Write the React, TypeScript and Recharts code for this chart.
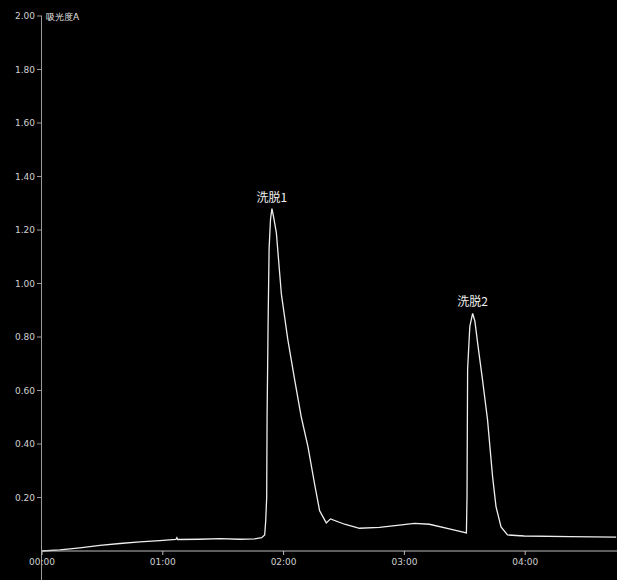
import React from 'react';
import { LineChart, Line, XAxis, YAxis, ReferenceDot } from 'recharts';

// time in seconds
const times = [
  0, 8.9, 18.8, 28.8, 38.7, 48.6, 58.5, 66.5, 67.0, 67.4, 78.3, 88.3, 98.2, 105.6, 109.1,
  110.6, 111.1, 111.6, 111.8, 112.3, 112.8, 113.5, 114.2, 115.0, 116.4, 118.9, 122.1, 125.5,
  128.8, 132.1, 135.4, 137.9, 141.2, 143.3, 150.3, 157.7, 167.6, 177.5, 185.0, 192.4, 202.3,
  210.8, 211.1, 211.4, 212.5, 213.9, 215.0, 216.4, 218.8, 221.3, 223.8, 225.5, 228.0, 231.2,
  239.5, 262.3, 285.2,
];
// absorbance A
const absorbance = [
  0, 0.004, 0.012, 0.021, 0.028, 0.034, 0.039, 0.043, 0.05, 0.043, 0.044, 0.046, 0.044, 0.045, 0.05,
  0.06, 0.11, 0.2, 0.5, 0.85, 1.13, 1.24, 1.28, 1.25, 1.19, 0.96, 0.79, 0.64,
  0.5, 0.39, 0.25, 0.15, 0.105, 0.12, 0.1, 0.085, 0.088, 0.097, 0.103, 0.1, 0.083,
  0.068, 0.2, 0.68, 0.84, 0.888, 0.86, 0.776, 0.64, 0.49, 0.278, 0.166, 0.09, 0.06,
  0.056, 0.054, 0.052,
];

const xTicks = [0, 60, 120, 180, 240];
const yTicks = [0.2, 0.4, 0.6, 0.8, 1.0, 1.2, 1.4, 1.6, 1.8, 2.0];
const peakTimes = [114.2, 213.9];
const peakValues = [1.28, 0.888];
const peakLabels = ['洗脱1', '洗脱2'];
const yAxisTitle = '吸光度A';

const data = times.map((t, i) => ({ t, a: absorbance[i] }));

const fmtTime = (s: number) => {
  const m = Math.floor(s / 60);
  const sec = Math.round(s - m * 60);
  return `${String(m).padStart(2, '0')}:${String(sec).padStart(2, '0')}`;
};

const FONT = '"DejaVu Sans", sans-serif';

export default function App() {
  return (
    <div style={{ position: 'absolute', left: 0, top: 0, width: 617, height: 580, background: '#000', overflow: 'hidden' }}>
      <div style={{ position: 'absolute', left: 41, top: 16, width: 1, height: 566, background: '#9a9a9a' }} />
      <LineChart width={617} height={582} data={data} margin={{ top: 16, right: 0, bottom: 0, left: 0 }}>
        <XAxis
          dataKey="t"
          type="number"
          domain={[0, 285.6]}
          ticks={xTicks}
          tickFormatter={fmtTime}
          height={31}
          axisLine={{ stroke: '#bdbdbd', strokeWidth: 1 }}
          tickLine={{ stroke: '#bdbdbd' }}
          tickSize={4}
          tick={{ fill: '#d0d0d0', fontSize: 9, fontFamily: FONT, dy: 2 }}
          interval={0}
          allowDataOverflow
        />
        <YAxis
          type="number"
          domain={[0, 2]}
          ticks={yTicks}
          width={42}
          tickFormatter={(v: number) => v.toFixed(2)}
          axisLine={false}
          tickLine={{ stroke: '#9a9a9a' }}
          tickSize={5}
          tick={{ fill: '#d0d0d0', fontSize: 9, fontFamily: FONT }}
          interval={0}
          label={{
            value: yAxisTitle,
            content: (p: any) => (
              <text x={(p.viewBox?.x ?? 0) + (p.viewBox?.width ?? 42) + 4} y={(p.viewBox?.y ?? 16) + 4} fill="#e0e0e0" fontSize={9} fontFamily={FONT}>
                {yAxisTitle}
              </text>
            ),
          }}
        />
        <Line
          type="linear"
          dataKey="a"
          stroke="#eeeeee"
          strokeWidth={1.3}
          dot={false}
          isAnimationActive={false}
        />
        {peakTimes.map((t, i) => (
          <ReferenceDot
            key={i}
            x={t}
            y={peakValues[i]}
            r={0}
            fill="none"
            stroke="none"
            label={{ value: peakLabels[i], position: 'top', offset: 7, fill: '#f0f0f0', fontSize: 12, fontFamily: '"Noto Sans CJK SC", sans-serif' }}
          />
        ))}
      </LineChart>
    </div>
  );
}
